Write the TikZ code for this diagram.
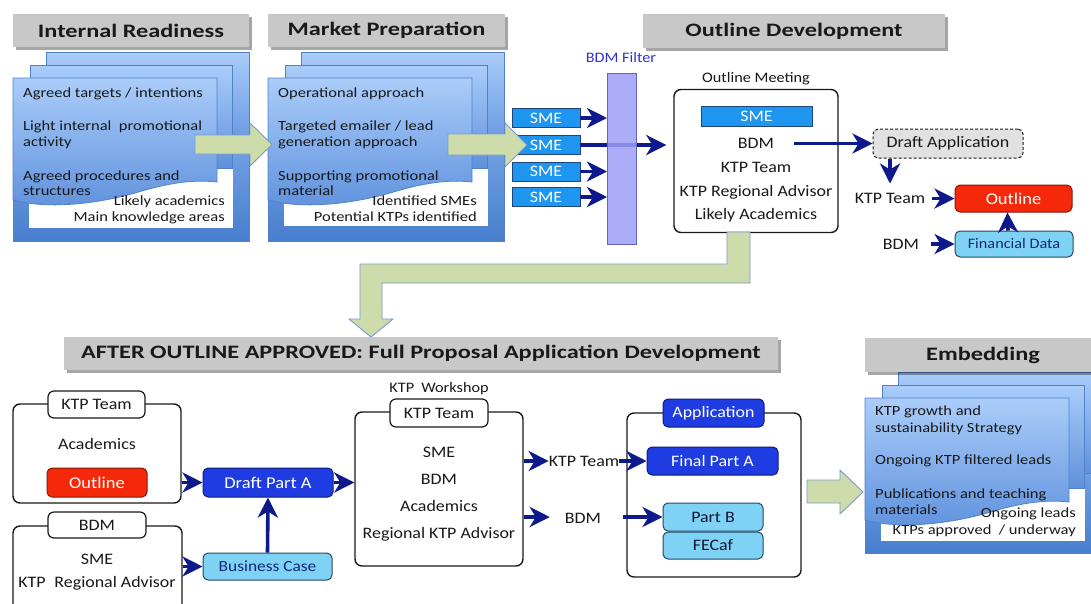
\documentclass[tikz,border=0pt]{standalone}
\usepackage{fontspec}
\setmainfont{Carlito}
\newfontfamily\headfont[FakeStretch=1.28]{Carlito}
\newfontfamily\listfont[FakeStretch=1.18]{Carlito}
\newfontfamily\labelfont[FakeStretch=1.12]{Carlito}
\usetikzlibrary{arrows.meta,shadows}

\definecolor{flowblue}{RGB}{14,26,140}
\definecolor{titlegray}{RGB}{200,200,200}
\definecolor{arrowgreen}{RGB}{205,220,170}
\definecolor{arrowedge}{RGB}{120,155,205}
\definecolor{sheettop}{RGB}{170,205,250}
\definecolor{sheetbot}{RGB}{95,145,220}
\definecolor{sheetedge}{RGB}{80,130,200}
\definecolor{frametop}{RGB}{130,175,235}
\definecolor{framebot}{RGB}{72,126,206}
\definecolor{smeblue}{RGB}{30,150,240}
\definecolor{smeedge}{RGB}{30,70,120}
\definecolor{filterfill}{RGB}{158,158,248}
\definecolor{filteredge}{RGB}{100,100,190}
\definecolor{filtertext}{RGB}{50,50,210}
\definecolor{partblue}{RGB}{30,60,225}
\definecolor{partedge}{RGB}{15,30,120}
\definecolor{outlinered}{RGB}{245,40,10}
\definecolor{rededge}{RGB}{130,25,10}
\definecolor{paleblue}{RGB}{125,210,245}
\definecolor{paleedge}{RGB}{40,70,100}
\definecolor{darkbluetext}{RGB}{22,40,120}
\definecolor{ink}{RGB}{25,25,25}
\definecolor{draftgray}{RGB}{225,225,225}

\tikzset{
  titlebar/.style={fill=titlegray, inner sep=0pt, text=ink,
    font=\headfont\bfseries\fontsize{19}{22}\selectfont,
    drop shadow={shadow xshift=3pt, shadow yshift=-3pt, opacity=.35, fill=black}},
  sheet/.style={draw=sheetedge, line width=0.8pt, top color=sheettop, bottom color=sheetbot},
  sheetframe/.style={draw=sheetedge, line width=0.8pt, top color=frametop, bottom color=framebot},
  listtext/.style={font=\listfont\fontsize{14}{16}\selectfont, text=ink, inner sep=0pt, anchor=base west},
  listright/.style={listtext, anchor=base east},
  plain/.style={font=\labelfont\fontsize{16}{18}\selectfont, text=ink, inner sep=0pt, anchor=base},
  caption/.style={plain, font=\labelfont\fontsize{14.5}{16}\selectfont},
  smebox/.style={fill=smeblue, draw=smeedge, line width=0.8pt, text=white, inner sep=0pt,
    font=\labelfont\fontsize{16}{17}\selectfont},
  boxbase/.style={rounded corners=5pt, line width=1pt, inner sep=0pt,
    font=\labelfont\fontsize{16}{18}\selectfont},
  darkbox/.style={boxbase, fill=partblue, draw=partedge, text=white},
  redbox/.style={boxbase, fill=outlinered, draw=rededge, text=white},
  palebox/.style={boxbase, fill=paleblue, draw=paleedge, text=darkbluetext},
  groupbox/.style={draw=ink, line width=1.4pt, rounded corners=7pt, fill=white, inner sep=0pt},
  tabbox/.style={draw=ink, line width=1.2pt, rounded corners=6pt, fill=white, inner sep=0pt,
    text=ink, font=\labelfont\fontsize{16}{18}\selectfont},
  flow/.style={draw=flowblue, line width=3.6pt, -{Stealth[length=20pt,width=20pt,inset=6pt]}},
  blockarrow/.style={fill=arrowgreen, draw=arrowedge, line width=0.9pt, line join=miter}
}

% a stacked list of three sheets over a framed white panel
\newcommand\sheetstack[4]{%
  \begin{scope}[shift={(#1,#2)}]
    \path[sheetframe] (13,110) rectangle (249,#3);
    \path[fill=white] (29,150) rectangle (233,#4);
    \path[sheet] (46,52) rectangle (249,153);
    \path[sheet] (30,65) rectangle (232,168);
    \path[sheet] (13,78) -- (217,78) -- (217,182)
      .. controls (190,179) and (165,184) .. (135,193)
      .. controls (100,203) and (50,210) .. (13,200) -- cycle;
  \end{scope}}

\begin{document}
\begin{tikzpicture}[x=1pt,y=-1pt]
\useasboundingbox (0,0) rectangle (1091,603);
\fill[white] (0,0) rectangle (1091,603);

% ---------- stacked panels ----------
\sheetstack{0}{0}{241}{228}
\sheetstack{255}{0}{241}{226}
\sheetstack{852}{320}{233}{221}

% ---------- headings ----------
\node[titlebar, minimum width=236pt, minimum height=33pt] (tIR) at (131,30.5) {Internal Readiness};
\node[titlebar, minimum width=237pt, minimum height=33pt] (tMP) at (386.5,30.5) {Market Preparation};
\node[titlebar, minimum width=302pt, minimum height=34pt] (tOD) at (794,31) {Outline Development};
\node[titlebar, minimum width=714pt, minimum height=33pt] (tAO) at (421,353.5)
  {AFTER OUTLINE APPROVED: Full Proposal Application Development};
\node[titlebar, minimum width=236pt, minimum height=34pt] (tEM) at (983,355) {Embedding};

% ---------- panel texts ----------
\node[listtext] (ir1) at (23,97) {Agreed targets / intentions};
\node[listtext] (ir2) at (23,130) {Light internal\ \ promotional};
\node[listtext] (ir3) at (23,146) {activity};
\node[listtext] (ir4) at (23,180) {Agreed procedures and};
\node[listtext] (ir5) at (23,195) {structures};
\node[listright] (ir6) at (225,205) {Likely academics};
\node[listright] (ir7) at (225,221) {Main knowledge areas};

\node[listtext] (mp1) at (278,97) {Operational approach};
\node[listtext] (mp2) at (278,130) {Targeted emailer / lead};
\node[listtext] (mp3) at (278,146) {generation approach};
\node[listtext] (mp4) at (278,180) {Supporting promotional};
\node[listtext] (mp5) at (278,195) {material};
\node[listright] (mp6) at (477,205) {Identified SMEs};
\node[listright] (mp7) at (477,221) {Potential KTPs identified};

\node[listtext] (em1) at (875,415) {KTP growth and};
\node[listtext] (em2) at (875,432) {sustainability Strategy};
\node[listtext] (em3) at (875,464) {Ongoing KTP filtered leads};
\node[listtext] (em4) at (875,498) {Publications and teaching};
\node[listtext] (em5) at (875,514) {materials};
\node[listright] (em6) at (1076,517) {Ongoing leads};
\node[listright] (em7) at (1076,534) {KTPs approved\ \ / underway};

% ---------- BDM filter ----------
\node[smebox, minimum width=68pt, minimum height=19pt] (sme1) at (546,118) {SME};
\node[smebox, minimum width=68pt, minimum height=19pt] (sme2) at (546,145) {SME};
\node[smebox, minimum width=68pt, minimum height=19pt] (sme3) at (546,171.5) {SME};
\node[smebox, minimum width=68pt, minimum height=19pt] (sme4) at (546,197) {SME};
\node[caption, text=filtertext] (ftitle) at (621,62) {BDM Filter};

\node[groupbox, minimum width=164pt, minimum height=143pt] (meet) at (756,161) {};
\node[caption] (mtitle) at (756,82) {Outline Meeting};

\coordinate (filterW) at (607,158);
\draw[flow] (sme1.east) -- (sme1.east -| filterW);
\draw[flow, shorten >=7pt] (sme2.east) -- (sme2.east -| meet.west);
\draw[flow] (sme3.east) -- (sme3.east -| filterW);
\draw[flow] (sme4.east) -- (sme4.east -| filterW);
\node[fill=filterfill, draw=filteredge, line width=0.8pt, fill opacity=0.85,
  minimum width=29pt, minimum height=171pt, inner sep=0pt] (filter) at (621.5,158.5) {};

% ---------- outline meeting ----------
\node[smebox, minimum width=111pt, minimum height=20pt] (msme) at (756.5,116) {SME};
\node[plain] (mbdm) at (756,148) {BDM};
\node[plain] (mktp) at (756,172) {KTP Team};
\node[plain] (madv) at (756,196) {KTP Regional Advisor};
\node[plain] (macad) at (756,219) {Likely Academics};

\node[boxbase, draw=ink, dashed, dash pattern=on 3pt off 2pt, fill=draftgray, text=ink,
  minimum width=150pt, minimum height=29pt] (dapp) at (948,143.5) {Draft Application};
\node[plain] (ktpt) at (890,203) {KTP Team};
\node[redbox, minimum width=117pt, minimum height=27pt, font=\labelfont\fontsize{16.5}{18}\selectfont]
  (outl) at (1013.5,198.5) {Outline};
\node[palebox, minimum width=118pt, minimum height=26pt, font=\labelfont\fontsize{14.5}{16}\selectfont]
  (fin) at (1014,244) {Financial Data};
\node[plain] (bdm2) at (901,249) {BDM};

\draw[flow] ([xshift=20pt]mbdm.east |- dapp.west) -- (dapp.west);
\draw[flow, shorten >=9pt] (dapp.south -| ktpt.north) -- (ktpt.north);
\draw[flow] ([xshift=7pt]ktpt.east |- outl.west) -- (outl.west);
\draw[flow] ([xshift=12pt]bdm2.east |- fin.west) -- (fin.west);
\draw[flow] ([xshift=-6pt]fin.north) -- ([xshift=-6pt]outl.south);

% ---------- full proposal ----------
\node[groupbox, minimum width=168pt, minimum height=99pt] (grpA) at (97,453.5) {};
\node[tabbox, minimum width=97pt, minimum height=27pt] (tabA) at (96.5,404.5) {KTP Team};
\node[plain] (acadA) at (97,449) {Academics};
\node[redbox, minimum width=100pt, minimum height=29pt, font=\labelfont\fontsize{16.5}{18}\selectfont]
  (outlA) at (97,482.5) {Outline};

\node[groupbox, minimum width=169pt, minimum height=114pt] (grpB) at (97.5,583) {};
\node[tabbox, minimum width=98pt, minimum height=26pt] (tabB) at (97,525) {BDM};
\node[plain] (smeB) at (97,564) {SME};
\node[plain] (advB) at (97,587) {KTP\hspace{0.55em}Regional Advisor};

\node[darkbox, minimum width=130pt, minimum height=29pt, font=\labelfont\fontsize{16.5}{18}\selectfont]
  (draftA) at (268,482.5) {Draft Part A};
\node[palebox, minimum width=129pt, minimum height=27pt, font=\labelfont\fontsize{15.5}{17}\selectfont]
  (bcase) at (267.5,566.5) {Business Case};

\node[groupbox, minimum width=168pt, minimum height=154pt] (work) at (439,489) {};
\node[tabbox, minimum width=98pt, minimum height=28pt] (tabW) at (439,413) {KTP Team};
\node[caption] (wtitle) at (439,392) {KTP\hspace{0.5em}Workshop};
\node[plain] (wsme) at (439,457) {SME};
\node[plain] (wbdm) at (439,484) {BDM};
\node[plain] (wacad) at (439,511) {Academics};
\node[plain] (wadv) at (439,538) {Regional KTP Advisor};

\node[plain] (ktp3) at (584,466) {KTP Team};
\node[plain] (bdm3) at (583,523) {BDM};

\node[groupbox, minimum width=174pt, minimum height=164pt] (appl) at (714,495) {};
\node[darkbox, minimum width=101pt, minimum height=28pt] (tabApp) at (713.5,413) {Application};
\node[darkbox, minimum width=131pt, minimum height=28pt] (finalA) at (712.5,461) {Final Part A};
\node[palebox, minimum width=100pt, minimum height=28pt, text=ink!90!blue] (partB) at (713,517) {Part B};
\node[palebox, minimum width=100pt, minimum height=27pt, text=ink!90!blue] (fecaf) at (713,545.5) {FECaf};

\draw[flow] (grpA.east |- draftA.west) -- (draftA.west);
\draw[flow] (draftA.east) -- (draftA.east -| work.west);
\draw[flow] (grpB.east |- bcase.west) -- (bcase.west);
\draw[flow] (bcase.north) -- (draftA.south);
\draw[flow] (work.east |- finalA.west) -- (ktp3.west |- finalA.west);
\draw[flow] (ktp3.east |- finalA.west) -- (finalA.west);
\draw[flow] (work.east |- partB.west) -- ([xshift=-15pt]bdm3.west |- partB.west);
\draw[flow] ([xshift=22pt]bdm3.east |- partB.west) -- (partB.west);

% ---------- stage arrows ----------
\path[blockarrow] (195,135) -- (250,135) -- (250,123) -- (272,144.5) -- (250,166) -- (250,154) -- (195,154) -- cycle;
\path[blockarrow] (448,134) -- (505,134) -- (505,123) -- (527,145) -- (505,167) -- (505,155) -- (448,155) -- cycle;
\path[blockarrow] (727,232) -- (750,232) -- (750,283) -- (382,283) -- (382,319) -- (393,319)
  -- (371,337) -- (349,319) -- (360,319) -- (360,264) -- (727,264) -- cycle;
\path[blockarrow] (807,480) -- (840,480) -- (840,470) -- (863,492) -- (840,514) -- (840,503) -- (807,503) -- cycle;
\end{tikzpicture}
\end{document}
